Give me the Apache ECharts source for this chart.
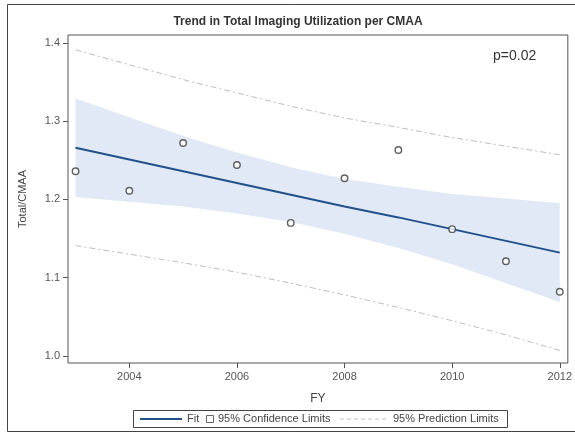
<!DOCTYPE html>
<html>
<head>
<meta charset="utf-8">
<script src="https://cdn.jsdelivr.net/npm/echarts@6/dist/echarts.min.js"></script>
<style>
  html, body { margin: 0; padding: 0; background: #ffffff; }
  #chart { width: 575px; height: 434px; }
</style>
</head>
<body>
<div id="chart"></div>
<script>
// values
const years = [2003, 2004, 2005, 2006, 2007, 2008, 2009, 2010, 2011, 2012];
const observed = [1.236, 1.211, 1.272, 1.244, 1.170, 1.227, 1.263, 1.162, 1.121, 1.082];
const fitValues = [1.266, 1.251, 1.236, 1.221, 1.206, 1.191, 1.177, 1.162, 1.147, 1.132];
const ciUpper = [1.329, 1.305, 1.281, 1.260, 1.241, 1.226, 1.216, 1.207, 1.201, 1.195];
const ciLower = [1.203, 1.197, 1.191, 1.182, 1.171, 1.156, 1.138, 1.117, 1.093, 1.069];
const piUpper = [1.391, 1.372, 1.353, 1.336, 1.319, 1.304, 1.292, 1.279, 1.268, 1.257];
const piLower = [1.141, 1.130, 1.119, 1.107, 1.093, 1.078, 1.062, 1.045, 1.027, 1.007];
const xTicks = [2004, 2006, 2008, 2010, 2012];
const yTicks = [1.0, 1.1, 1.2, 1.3, 1.4];

const pairs = (vals) => years.map((x, i) => [x, vals[i]]);

let myChart = echarts.init(document.getElementById("chart"));

let font = "Liberation Sans, Arial, sans-serif";

// confidence band as one polygon: upper edge then lower edge backwards
function renderBand(params, api) {
  let pts = [];
  for (let i = 0; i < years.length; i++) {
    pts.push(api.coord([years[i], ciUpper[i]]));
  }
  for (let i = years.length - 1; i >= 0; i--) {
    pts.push(api.coord([years[i], ciLower[i]]));
  }
  return {
    type: "polygon",
    shape: { points: pts },
    style: { fill: "#e0e9f5", stroke: "none" },
  };
}

let option = {
  animation: false,
  textStyle: { fontFamily: font },
  title: {
    text: "Trend in Total Imaging Utilization per CMAA",
    left: 293,
    top: 11,
    textAlign: "center",
    textStyle: { fontSize: 12, fontWeight: "bold", color: "#333", fontFamily: font },
  },
  grid: {
    left: 68,
    right: 2,
    top: 35,
    bottom: 71,
    show: true,
    borderColor: "#555",
    borderWidth: 1,
    backgroundColor: "transparent",
  },
  xAxis: {
    type: "value",
    min: 2002.86,
    max: 2012.15,
    name: "FY",
    nameLocation: "middle",
    nameGap: 30,
    nameTextStyle: { fontSize: 12, color: "#444", fontFamily: font },
    splitLine: { show: false },
    axisLine: { show: false },
    axisTick: { show: true, length: 5, customValues: xTicks, lineStyle: { color: "#555" } },
    axisLabel: {
      customValues: xTicks,
      fontSize: 11,
      color: "#555",
      margin: 8,
      formatter: (v) => String(v),
    },
  },
  yAxis: {
    type: "value",
    min: 0.991,
    max: 1.41,
    name: "Total/CMAA",
    nameLocation: "middle",
    nameGap: 40,
    nameTextStyle: { fontSize: 11, color: "#444", fontFamily: font },
    splitLine: { show: false },
    axisLine: { show: false },
    axisTick: { show: true, length: 5, customValues: yTicks, lineStyle: { color: "#555" } },
    axisLabel: {
      customValues: yTicks,
      fontSize: 11,
      color: "#555",
      margin: 8,
      formatter: (v) => v.toFixed(1),
    },
  },
  series: [
    {
      name: "95% Confidence Limits",
      type: "custom",
      renderItem: renderBand,
      data: [[years[0], ciUpper[0]]],
      silent: true,
      clip: true,
      z: 1,
    },
    {
      name: "piUpper",
      type: "line",
      data: pairs(piUpper),
      symbol: "none",
      lineStyle: { color: "#bdbdbd", width: 1, type: [6, 3, 2, 3] },
      z: 2,
    },
    {
      name: "piLower",
      type: "line",
      data: pairs(piLower),
      symbol: "none",
      lineStyle: { color: "#bdbdbd", width: 1, type: [6, 3, 2, 3] },
      z: 2,
    },
    {
      name: "Fit",
      type: "line",
      data: pairs(fitValues),
      symbol: "none",
      lineStyle: { color: "#21508a", width: 2 },
      z: 3,
    },
    {
      name: "Observed",
      type: "scatter",
      data: pairs(observed),
      symbol: "circle",
      symbolSize: 6.5,
      itemStyle: { color: "#ffffff", borderColor: "#3a3a3a", borderWidth: 1.4 },
      z: 4,
    },
  ],
  graphic: [
    // outer frame (right side runs off the picture)
    {
      type: "rect",
      shape: { x: 7.5, y: 4.5, width: 580, height: 427 },
      style: { fill: "none", stroke: "#444", lineWidth: 1 },
      silent: true,
    },
    {
      type: "text",
      x: 493,
      y: 49,
      style: { text: "p=0.02", font: "14px " + font, fill: "#333" },
    },
    // legend
    {
      type: "rect",
      shape: { x: 133.5, y: 410.5, width: 374, height: 17 },
      style: { fill: "#fff", stroke: "#444", lineWidth: 1 },
    },
    {
      type: "line",
      shape: { x1: 140, y1: 419, x2: 182, y2: 419 },
      style: { stroke: "#21508a", lineWidth: 2 },
    },
    {
      type: "text",
      x: 187,
      y: 413,
      style: { text: "Fit", font: "11px " + font, fill: "#444" },
    },
    {
      type: "rect",
      shape: { x: 206.5, y: 415.5, width: 7, height: 7 },
      style: { fill: "#fff", stroke: "#666", lineWidth: 1 },
    },
    {
      type: "text",
      x: 218,
      y: 413,
      style: { text: "95% Confidence Limits", font: "11px " + font, fill: "#444" },
    },
    {
      type: "line",
      shape: { x1: 340, y1: 419, x2: 388, y2: 419 },
      style: { stroke: "#c0c0c0", lineWidth: 1, lineDash: [4, 3] },
    },
    {
      type: "text",
      x: 393,
      y: 413,
      style: { text: "95% Prediction Limits", font: "11px " + font, fill: "#444" },
    },
  ],
};

myChart.setOption(option);
</script>
</body>
</html>
